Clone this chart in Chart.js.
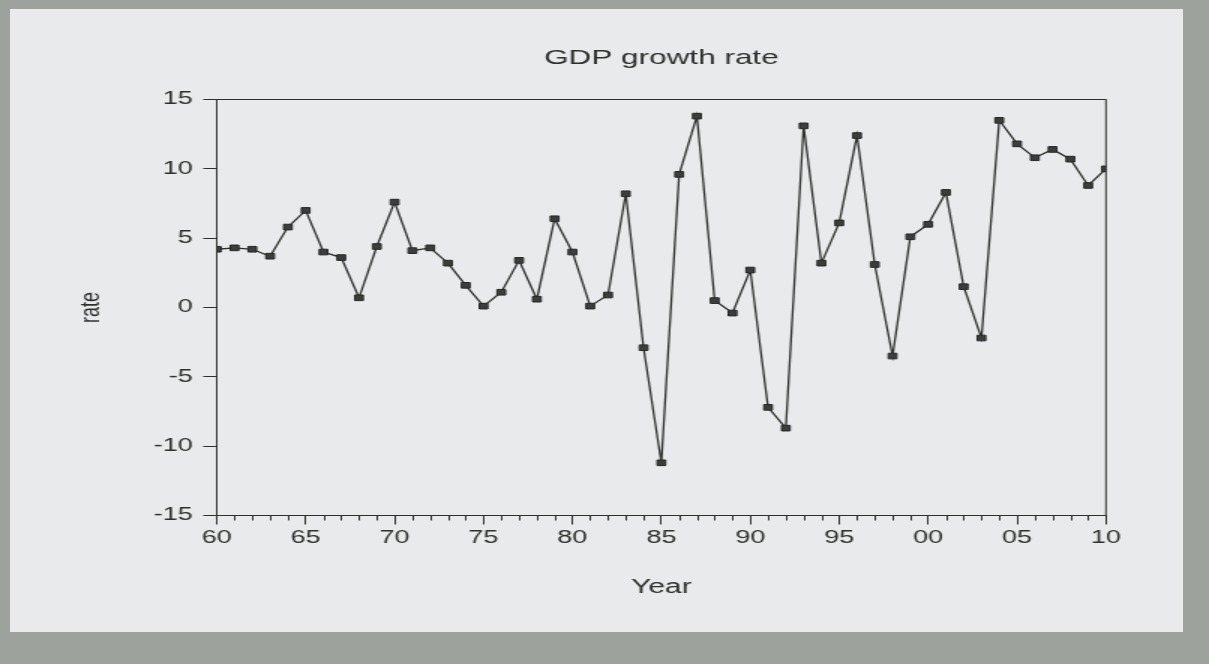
<!DOCTYPE html>
<html>
<head>
<meta charset="utf-8">
<script src="https://cdn.jsdelivr.net/npm/chart.js@4"></script>
<style>
  html, body { margin: 0; padding: 0; width: 1209px; height: 664px; overflow: hidden; background: #9ea29c; }
  #panel { position: absolute; left: 10px; top: 9px; width: 1173px; height: 623px; background: #e9eaec; }
  #stretch { position: absolute; left: 0; top: 0; transform: scaleX(1.5); transform-origin: 0 0; }
</style>
</head>
<body>
<div id="panel"></div>
<div id="stretch">
  <canvas id="gdpChart" width="806" height="664"></canvas>
</div>
<script>
// years 1960..2010 and GDP growth rate
const years = [1960,1961,1962,1963,1964,1965,1966,1967,1968,1969,
               1970,1971,1972,1973,1974,1975,1976,1977,1978,1979,
               1980,1981,1982,1983,1984,1985,1986,1987,1988,1989,
               1990,1991,1992,1993,1994,1995,1996,1997,1998,1999,
               2000,2001,2002,2003,2004,2005,2006,2007,2008,2009,2010];
const rates = [4.2, 4.3, 4.2, 3.7, 5.8, 7.0, 4.0, 3.6, 0.7, 4.4,
               7.6, 4.1, 4.3, 3.2, 1.6, 0.1, 1.1, 3.4, 0.6, 6.4,
               4.0, 0.1, 0.9, 8.2, -2.9, -11.2, 9.6, 13.8, 0.5, -0.4,
               2.7, -7.2, -8.7, 13.1, 3.2, 6.1, 12.4, 3.1, -3.5, 5.1,
               6.0, 8.3, 1.5, -2.2, 13.5, 11.8, 10.8, 11.4, 10.7, 8.8, 10.0];
const yTicks = [-15, -10, -5, 0, 5, 10, 15];

const ink = '#2d302c';
const font = 'Liberation Sans, Arial, Helvetica, sans-serif';

// frame round the plot + small yearly ticks on the x axis
const framePlugin = {
    id: 'frame',
    afterDraw(chart) {
        const {ctx, chartArea} = chart;
        const x = chart.scales.x;
        ctx.save();
        ctx.strokeStyle = ink;
        ctx.lineWidth = 1;
        ctx.strokeRect(chartArea.left, chartArea.top, chartArea.right - chartArea.left, chartArea.bottom - chartArea.top);
        ctx.beginPath();
        years.forEach(yr => {
            if (yr % 5 !== 0) {
                const px = Math.round(x.getPixelForValue(yr)) + 0.5;
                ctx.moveTo(px, chartArea.bottom);
                ctx.lineTo(px, chartArea.bottom + 5);
            }
        });
        ctx.stroke();
        ctx.restore();
    }
};

new Chart(document.getElementById('gdpChart'), {
    type: 'line',
    data: {
        datasets: [{
            label: 'rate',
            data: years.map((yr, i) => ({x: yr, y: rates[i]})),
            borderColor: ink,
            borderWidth: 1.3,
            pointStyle: 'rect',
            pointRadius: 4,
            pointBackgroundColor: '#3b3e3a',
            pointBorderColor: '#262825',
            pointBorderWidth: 1,
            tension: 0
        }]
    },
    options: {
        responsive: false,
        animation: false,
        layout: { padding: { left: 0, right: 68.7, top: 0, bottom: 0 } },
        plugins: {
            legend: { display: false },
            tooltip: { enabled: false },
            title: {
                display: true,
                text: 'GDP growth rate',
                fullSize: false,
                color: ink,
                font: { family: font, size: 21, weight: 'normal', lineHeight: 1.2 },
                padding: { top: 45.4, bottom: 28.9 }
            }
        },
        scales: {
            x: {
                type: 'linear',
                min: 1960,
                max: 2010,
                afterFit: s => { s.height = 148.5; },
                grid: { drawOnChartArea: false, drawTicks: true, tickLength: 9, color: ink },
                border: { display: true, color: ink, width: 1 },
                ticks: {
                    stepSize: 5,
                    color: ink,
                    padding: 3,
                    maxRotation: 0,
                    font: { family: font, size: 18 },
                    callback: v => String(v % 100).padStart(2, '0')
                },
                title: {
                    display: true,
                    text: 'Year',
                    color: ink,
                    font: { family: font, size: 20, lineHeight: 1.2 },
                    padding: { top: 0, bottom: 64.5 }
                }
            },
            y: {
                min: yTicks[0],
                max: yTicks[yTicks.length - 1],
                afterFit: s => { s.width = 144.5; },
                afterBuildTicks: s => { s.ticks = yTicks.map(v => ({value: v})); },
                grid: { drawOnChartArea: false, drawTicks: true, tickLength: 9, color: ink },
                border: { display: true, color: ink, width: 1 },
                ticks: {
                    color: ink,
                    padding: 7,
                    font: { family: font, size: 18 }
                },
                title: {
                    display: true,
                    text: 'rate',
                    color: ink,
                    font: { family: font, size: 18, lineHeight: 1.2 },
                    padding: { top: 50.5, bottom: 0 }
                }
            }
        }
    },
    plugins: [framePlugin]
});
</script>
</body>
</html>
